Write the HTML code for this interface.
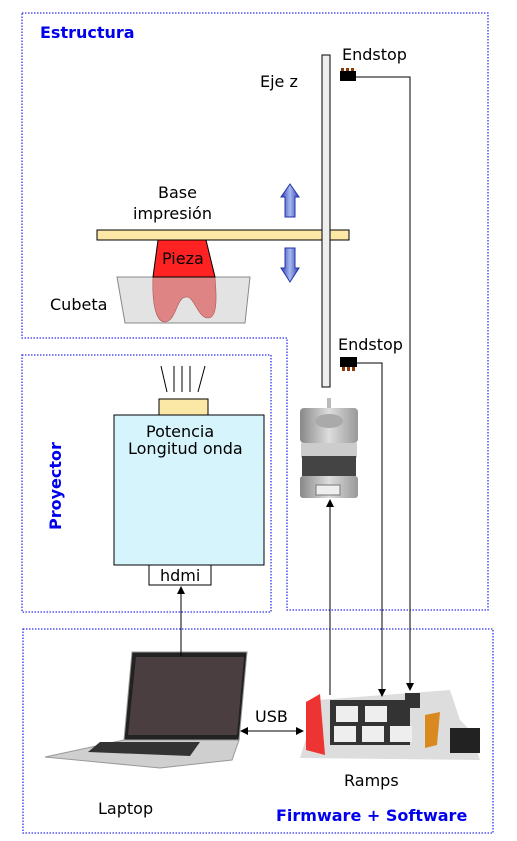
<!DOCTYPE html><html><head><style>body{margin:0;background:#fff}svg{display:block}text{font-family:"DejaVu Sans","Liberation Sans",sans-serif}</style></head><body>
<svg width="517" height="841" viewBox="0 0 517 841" xmlns="http://www.w3.org/2000/svg">
<defs>
<marker id="a" markerWidth="8" markerHeight="8" refX="7" refY="4" orient="auto" markerUnits="userSpaceOnUse"><path d="M0,0 L8,4 L0,8 Z" fill="#000"/></marker>
<marker id="b" markerWidth="8" markerHeight="8" refX="1" refY="4" orient="auto" markerUnits="userSpaceOnUse"><path d="M8,0 L0,4 L8,8 Z" fill="#000"/></marker>
<linearGradient id="bl" x1="0" x2="1"><stop offset="0" stop-color="#2a3fb0"/><stop offset=".5" stop-color="#a8b8f0"/><stop offset="1" stop-color="#2a3fb0"/></linearGradient>
<linearGradient id="mg" x1="0" x2="1"><stop offset="0" stop-color="#888"/><stop offset=".5" stop-color="#ddd"/><stop offset="1" stop-color="#999"/></linearGradient>
</defs>
<g fill="none" stroke="#3333ee" stroke-width="1.3" stroke-dasharray="1.5,1.5">
<path d="M22,13 H488 V610 H287 V338 H22 Z"/>
<rect x="22" y="355" width="249" height="257"/>
<rect x="23" y="629" width="470" height="204"/>
</g>
<text x="40" y="38" font-size="16" font-weight="bold" fill="#0000ee">Estructura</text>
<text x="0" y="0" font-size="16" font-weight="bold" fill="#0000ee" transform="translate(61,530) rotate(-90)">Proyector</text>
<text x="276" y="821" font-size="16" font-weight="bold" fill="#0000ee">Firmware + Software</text>
<!-- cubeta -->
<path d="M117,277 H250 L245,323 H125 Z" fill="#e3e3e3" stroke="#888"/>
<path d="M153,277 H215 C217,300 217,318 208,318 C198,318 195,298 187,297 C176,296 177,321 165,322 C155,322 152,300 153,277 Z" fill="#de8484" stroke="#a55" stroke-width=".6"/>
<path d="M158,240 H206 L215,277 H153 Z" fill="#f22" stroke="#000"/>
<text x="162" y="264" font-size="16">Pieza</text>
<rect x="97" y="230" width="252" height="10" fill="#fbe7a6" stroke="#000"/>
<text x="158" y="198" font-size="16">Base</text>
<text x="133" y="219" font-size="16">impresión</text>
<text x="50" y="310" font-size="16">Cubeta</text>
<path d="M290,184 L299,197 H295 V217 H285 V197 H281 Z" fill="url(#bl)" stroke="#2233aa"/>
<path d="M285,248 H295 V268 H299 L290,282 L281,268 H285 Z" fill="url(#bl)" stroke="#2233aa"/>
<!-- rail -->
<rect x="322" y="55" width="8" height="332" fill="#eee" stroke="#000"/>
<text x="260" y="87" font-size="16">Eje z</text>
<text x="342" y="60" font-size="16">Endstop</text>
<rect x="340" y="71" width="16" height="10" fill="#000"/><rect x="341" y="68" width="3" height="3" fill="#8b3a0a"/><rect x="346" y="68" width="3" height="3" fill="#8b3a0a"/><rect x="351" y="68" width="3" height="3" fill="#8b3a0a"/>
<text x="338" y="350" font-size="16">Endstop</text>
<rect x="340" y="357" width="17" height="10" fill="#000"/><rect x="342" y="367" width="3" height="4" fill="#8b3a0a"/><rect x="347" y="367" width="3" height="4" fill="#8b3a0a"/><rect x="352" y="367" width="3" height="4" fill="#8b3a0a"/>
<!-- motor -->
<rect x="327" y="398" width="4" height="22" fill="#bbb"/>
<rect x="300" y="408" width="58" height="35" rx="4" fill="url(#mg)"/>
<ellipse cx="329" cy="421" rx="14" ry="7" fill="#aaa"/>
<rect x="301" y="443" width="56" height="15" fill="#ccc"/>
<rect x="302" y="456" width="54" height="20" fill="#444"/>
<rect x="300" y="476" width="58" height="22" rx="3" fill="url(#mg)"/>
<rect x="316" y="485" width="24" height="10" fill="#eee" stroke="#777"/>
<!-- projector -->
<g stroke="#000"><line x1="161" y1="366" x2="167" y2="392"/><line x1="174" y1="366" x2="174" y2="392"/><line x1="182" y1="366" x2="182" y2="392"/><line x1="190" y1="366" x2="190" y2="392"/><line x1="205" y1="366" x2="198" y2="392"/></g>
<rect x="159" y="399" width="49" height="16" fill="#fbe7a6" stroke="#000"/>
<rect x="114" y="415" width="150" height="150" fill="#d6f4fc" stroke="#000"/>
<text x="146" y="437" font-size="16">Potencia</text>
<text x="128" y="454" font-size="16">Longitud onda</text>
<rect x="149" y="565" width="62" height="20" fill="#fff" stroke="#000"/>
<text x="160" y="581" font-size="16">hdmi</text>
<!-- laptop -->
<path d="M132,652 H247 L239,740 H124 Z" fill="#222" stroke="#999"/>
<path d="M136,657 H244 L237,735 H128 Z" fill="#4a3e40"/>
<path d="M124,740 H239 L232,760 L160,768 L45,757 Z" fill="#cfcfcf" stroke="#999"/>
<path d="M100,742 H200 L190,756 L88,752 Z" fill="#333"/>
<text x="98" y="814" font-size="16">Laptop</text>
<!-- ramps -->
<path d="M318,700 L450,690 L460,720 L470,730 L480,760 L300,758 Z" fill="#ddd"/>
<path d="M306,702 L320,694 L325,755 L306,750 Z" fill="#e33"/>
<rect x="330" y="700" width="80" height="45" fill="#333"/>
<rect x="336" y="706" width="22" height="16" fill="#eee"/><rect x="365" y="706" width="22" height="16" fill="#eee"/>
<rect x="334" y="726" width="22" height="16" fill="#eee"/><rect x="362" y="726" width="22" height="16" fill="#eee"/><rect x="390" y="726" width="22" height="16" fill="#eee"/>
<path d="M425,715 L440,712 L437,745 L425,748 Z" fill="#d88a20"/>
<rect x="450" y="728" width="30" height="25" fill="#222"/>
<rect x="405" y="693" width="15" height="15" fill="#333"/>
<text x="344" y="786" font-size="16">Ramps</text>
<text x="255" y="722" font-size="16">USB</text>
<!-- connectors -->
<g stroke="#000" fill="none" stroke-width="1">
<line x1="241" y1="731" x2="303" y2="731" marker-start="url(#b)" marker-end="url(#a)"/>
<line x1="181" y1="656" x2="181" y2="587" marker-end="url(#a)"/>
<line x1="330" y1="695" x2="330" y2="500" marker-end="url(#a)"/>
<polyline points="356,77 410,77 410,690" marker-end="url(#a)"/>
<polyline points="357,363 382,363 382,696" marker-end="url(#a)"/>
</g>
</svg></body></html>
